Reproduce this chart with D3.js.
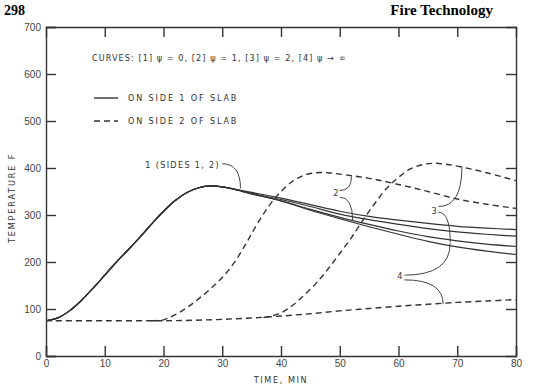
<!DOCTYPE html>
<html>
<head>
<meta charset="utf-8">
<script src="https://cdn.jsdelivr.net/npm/d3@7.9.0/dist/d3.min.js"></script>
<style>
  body { margin: 0; background: #fff; }
  svg { display: block; font-family: "DejaVu Sans Condensed", "DejaVu Sans", sans-serif; }
  .tick text { fill: #444; font-size: 10px; }
  .domain, .tick line { stroke: #333; stroke-width: 1.4; }
  .curve { fill: none; stroke: #333; stroke-width: 1.2; }
  .dashed { stroke-dasharray: 6 4; stroke-width: 1.4; }
  .leader { fill: none; stroke: #444; stroke-width: 1; }
  .lbl { fill: #333; font-size: 9px; letter-spacing: 1.6px; }
</style>
</head>
<body>
<svg width="557" height="385"></svg>
<script>
// time, min
const times = [0, 2, 4, 6, 8, 10, 12, 14, 16, 18, 20, 22, 24, 26, 28, 30, 32, 35, 40, 45, 50, 55, 60, 65, 70, 75, 80];

// side 1 (solid) curves, temperature F
const solidA = [75, 81, 96, 118, 144, 172, 200, 226, 253, 281, 308, 331, 348, 358, 362, 360, 355, 348, 336, 322, 308, 297, 289, 282, 276, 272, 269];
const solidB = [75, 81, 96, 118, 144, 172, 200, 226, 253, 281, 308, 331, 348, 358, 362, 360, 355, 346, 333, 318, 302, 290, 280, 271, 264, 259, 255];
const solidC = [75, 81, 96, 118, 144, 172, 200, 226, 253, 281, 308, 331, 348, 358, 362, 360, 355, 345, 330, 312, 295, 280, 266, 254, 245, 238, 233];
const solidD = [75, 81, 96, 118, 144, 172, 200, 226, 253, 281, 308, 331, 348, 358, 362, 360, 355, 345, 330, 310, 292, 275, 259, 244, 232, 223, 216];

// side 2 (dashed) curves
const dash2Times = [18, 20, 22, 24, 26, 28, 30, 32, 34, 36, 38, 40, 42, 44, 46, 48, 50, 55, 60, 65, 70, 75, 80];
const dash2 = [75, 77, 88, 103, 122, 143, 167, 198, 238, 282, 320, 350, 372, 385, 390, 390, 387, 378, 365, 350, 334, 323, 314];
const dash3Times = [37, 38, 40, 42, 44, 46, 48, 50, 52, 54, 56, 58, 60, 62, 64, 66, 68, 70, 75, 80];
const dash3 = [82, 84, 92, 108, 130, 155, 185, 218, 252, 290, 325, 357, 380, 398, 407, 410, 408, 404, 390, 373];
const dash4Times = [0, 10, 20, 25, 30, 35, 40, 45, 50, 55, 60, 65, 70, 75, 80];
const dash4 = [75, 75, 75, 76, 78, 81, 85, 90, 96, 101, 106, 110, 114, 117, 120];

const xTicks = [0, 10, 20, 30, 40, 50, 60, 70, 80];
const yTicks = [0, 100, 200, 300, 400, 500, 600, 700];

// annotations: label position and leader end points (data units)
const notes = [
  { text: '1 (SIDES 1, 2)', t: 16.9, v: 401, len: 75, leaders: [[30, 409, 33.1, 357]] },
  { text: '2', t: 48.9, v: 340, leaders: [[50, 352, 52, 382], [50, 338, 52.2, 288]] },
  { text: '3', t: 65.6, v: 303, leaders: [[66.8, 318, 70.8, 403], [66.8, 306, 68.8, 242]] },
  { text: '4', t: 59.8, v: 164, leaders: [[61, 172, 68.8, 240], [61, 162, 67.6, 110]] }
];

const width = 557, height = 385;
const margin = { top: 27, right: 41, bottom: 29, left: 46 };
const svg = d3.select('svg');

const x = d3.scaleLinear().domain([0, 80]).range([margin.left, width - margin.right]);
const y = d3.scaleLinear().domain([0, 700]).range([height - margin.bottom, margin.top]);

svg.append('g')
  .attr('transform', `translate(0,${y(0)})`)
  .call(d3.axisBottom(x).tickValues(xTicks).tickSize(-10).tickPadding(4));
svg.append('g')
  .attr('transform', `translate(${x(0)},0)`)
  .call(d3.axisLeft(y).tickValues(yTicks).tickSize(-10).tickPadding(5));
svg.append('g')
  .attr('transform', `translate(0,${y(700)})`)
  .call(d3.axisTop(x).tickValues(xTicks.slice(1, -1)).tickSize(-10).tickFormat(''));
svg.append('g')
  .attr('transform', `translate(${x(80)},0)`)
  .call(d3.axisRight(y).tickValues(yTicks.slice(1, -1)).tickSize(-10).tickFormat(''));

const line = d3.line().curve(d3.curveCatmullRom.alpha(0.5));

[solidA, solidB, solidC, solidD].forEach(vals => {
  svg.append('path').attr('class', 'curve')
    .attr('d', line(times.map((t, i) => [x(t), y(vals[i])])));
});
[[dash4Times, dash4], [dash2Times, dash2], [dash3Times, dash3]].forEach(([ts, vals]) => {
  svg.append('path').attr('class', 'curve dashed')
    .attr('d', line(ts.map((t, i) => [x(t), y(vals[i])])));
});

// legend
svg.append('text').attr('class', 'lbl').attr('x', 92).attr('y', 61)
  .attr('textLength', 255).attr('lengthAdjust', 'spacing')
  .text('CURVES: [1]  ψ = 0, [2]  ψ = 1, [3]  ψ = 2, [4]  ψ → ∞');
[['ON SIDE 1 OF SLAB', ''], ['ON SIDE 2 OF SLAB', '6 4']].forEach(([label, dash], i) => {
  const ly = 98 + i * 23;
  svg.append('line').attr('x1', 94).attr('x2', 118).attr('y1', ly).attr('y2', ly)
    .attr('stroke', '#333').attr('stroke-width', 1.4).attr('stroke-dasharray', dash);
  svg.append('text').attr('class', 'lbl').attr('x', 128).attr('y', ly + 3)
    .attr('textLength', 110).attr('lengthAdjust', 'spacing').text(label);
});

// annotations
notes.forEach(n => {
  const t = svg.append('text').attr('class', 'lbl').attr('x', x(n.t)).attr('y', y(n.v)).text(n.text);
  if (n.len) t.attr('textLength', n.len).attr('lengthAdjust', 'spacing');
  n.leaders.forEach(([t0, v0, t1, v1]) => {
    const p = d3.path();
    const x0 = x(t0), y0 = y(v0), x1 = x(t1), y1 = y(v1);
    p.moveTo(x0, y0);
    p.quadraticCurveTo(x1, y0, x1, y1);
    svg.append('path').attr('class', 'leader').attr('d', p.toString());
  });
});

// axis titles and page header
svg.append('text').attr('class', 'lbl')
  .attr('transform', `translate(15,${y(336)}) rotate(-90)`)
  .attr('text-anchor', 'middle')
  .attr('textLength', 90).attr('lengthAdjust', 'spacing')
  .text('TEMPERATURE    F');
svg.append('text').attr('class', 'lbl')
  .attr('x', x(40)).attr('y', 383).attr('text-anchor', 'middle').attr('font-size', 8).text('TIME, MIN');
svg.append('text').attr('x', 4).attr('y', 15)
  .attr('font-family', 'Liberation Serif, serif').attr('font-weight', 'bold').attr('font-size', 14)
  .text('298');
svg.append('text').attr('x', 493).attr('y', 15).attr('text-anchor', 'end')
  .attr('font-family', 'Liberation Serif, serif').attr('font-weight', 'bold').attr('font-size', 15)
  .text('Fire Technology');
</script>
</body>
</html>
